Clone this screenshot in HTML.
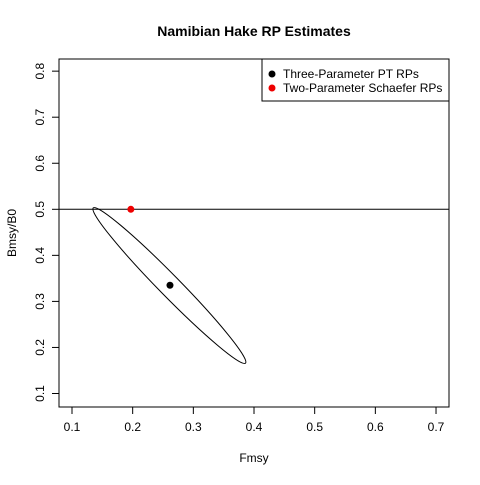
<!DOCTYPE html>
<html><head><meta charset="utf-8"><style>
body{margin:0;background:#fff}
svg text{font-family:"Liberation Sans",sans-serif;fill:#000}
</style></head><body>
<svg id="c" width="480" height="480" xmlns="http://www.w3.org/2000/svg">
<rect width="480" height="480" fill="#fff"/>
<text x="254" y="36" font-size="14" font-weight="bold" text-anchor="middle">Namibian Hake RP Estimates</text>
<rect x="59" y="59" width="390" height="348" fill="none" stroke="#000"/>
<g id="axes"></g>
<g id="marks"></g>
<text x="254" y="462" font-size="12" text-anchor="middle">Fmsy</text>
<text x="16" y="233" font-size="12" text-anchor="middle" transform="rotate(-90 16 233)">Bmsy/B0</text>
<g>
<rect x="262" y="59" width="187" height="42" fill="#fff" stroke="#000"/>
<circle cx="272" cy="74" r="3.5" fill="#000"/>
<text x="283" y="78" font-size="12">Three-Parameter PT RPs</text>
<circle cx="272" cy="88" r="3.5" fill="#e00"/>
<text x="283" y="92" font-size="12">Two-Parameter Schaefer RPs</text>
</g>
</svg>
<script>
const xTicks=[0.1,0.2,0.3,0.4,0.5,0.6,0.7];
const yTicks=[0.1,0.2,0.3,0.4,0.5,0.6,0.7,0.8];
const ptPoint=[0.2615,0.335];
const schaeferPoint=[0.197,0.5];
const refLineY=[0.5];
const ellipseEnd1=[0.135,0.503];
const ellipseEnd2=[0.386,0.166];
const ellipseHalfWidthPx=[10.5];
const X=v=>72+(v-0.1)*606.7;
const Y=v=>393.5-(v-0.1)*460.5;
const NS="http://www.w3.org/2000/svg";
function mk(t,a,p){const e=document.createElementNS(NS,t);for(const k in a)e.setAttribute(k,a[k]);p.appendChild(e);return e;}
const ax=document.getElementById('axes'),mg=document.getElementById('marks');
mk('line',{x1:X(0.1),x2:X(0.7),y1:407,y2:407,stroke:'#000'},ax);
xTicks.forEach(v=>{mk('line',{x1:X(v),x2:X(v),y1:407,y2:414,stroke:'#000'},ax);
const t=mk('text',{x:X(v),y:431,'font-size':12,'text-anchor':'middle'},ax);t.textContent=v.toFixed(1);

});
mk('line',{x1:59,x2:59,y1:Y(0.1),y2:Y(0.8),stroke:'#000'},ax);
yTicks.forEach(v=>{mk('line',{x1:52,x2:59,y1:Y(v),y2:Y(v),stroke:'#000'},ax);
const t=mk('text',{x:44,y:Y(v),'font-size':12,'text-anchor':'middle',transform:`rotate(-90 44 ${Y(v)})`},ax);t.textContent=v.toFixed(1);

});
refLineY.forEach(v=>{const l=mk('line',{x1:59,x2:449,y1:Y(v),y2:Y(v),stroke:'#000'},mg);

});
const x1=X(ellipseEnd1[0]),y1=Y(ellipseEnd1[1]),x2=X(ellipseEnd2[0]),y2=Y(ellipseEnd2[1]);
const cx=(x1+x2)/2,cy=(y1+y2)/2,rx=Math.hypot(x2-x1,y2-y1)/2,ang=Math.atan2(y2-y1,x2-x1)*180/Math.PI;
const el=mk('ellipse',{cx:cx,cy:cy,rx:rx,ry:ellipseHalfWidthPx[0],fill:'none',stroke:'#000',transform:`rotate(${ang} ${cx} ${cy})`},mg);


const p1=mk('circle',{cx:X(ptPoint[0]),cy:Y(ptPoint[1]),r:3.5,fill:'#000'},mg);


const p2=mk('circle',{cx:X(schaeferPoint[0]),cy:Y(schaeferPoint[1]),r:3.5,fill:'#e00'},mg);


</script>
</body></html>
